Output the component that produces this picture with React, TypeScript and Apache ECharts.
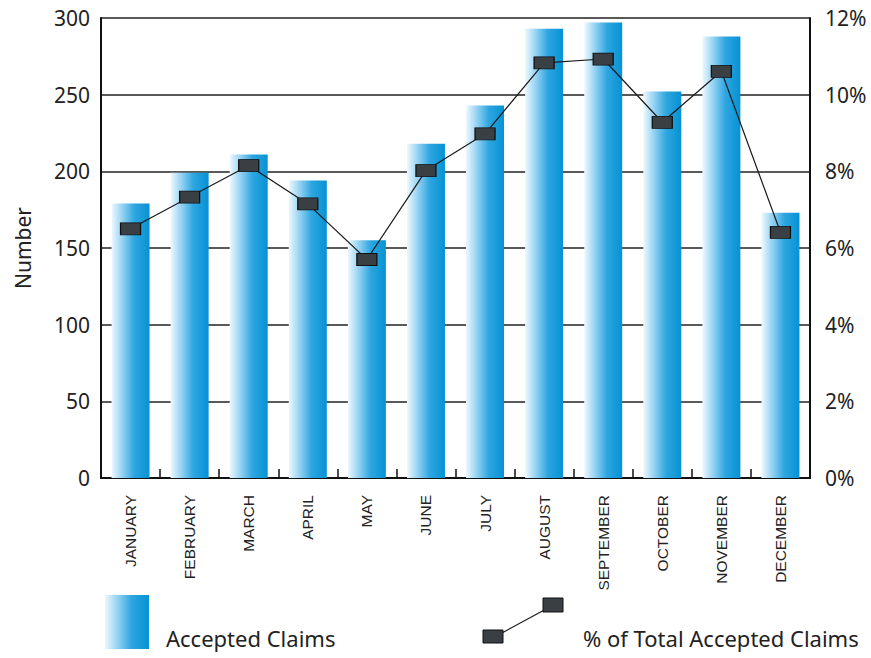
import React, { useEffect, useRef } from "react";
import * as echarts from "echarts";

const months = [
  "JANUARY", "FEBRUARY", "MARCH", "APRIL", "MAY", "JUNE",
  "JULY", "AUGUST", "SEPTEMBER", "OCTOBER", "NOVEMBER", "DECEMBER",
];
const acceptedClaims = [179, 199, 211, 194, 155, 218, 243, 293, 297, 252, 288, 173];
const pctOfTotal = [6.5, 7.33, 8.15, 7.15, 5.7, 8.02, 8.98, 10.83, 10.93, 9.28, 10.61, 6.41];
const leftTicks = { min: 0, max: 300, interval: 50 };
const rightTicks = { min: 0, max: 12, interval: 2 };

const FONT = "'Noto Sans', 'DejaVu Sans', sans-serif";
const LABEL_FONT = "'Liberation Sans Narrow', 'Arial Narrow', sans-serif";

const barGradient = () =>
  new echarts.graphic.LinearGradient(0, 0, 1, 0, [
    { offset: 0, color: "#eef8fe" },
    { offset: 0.3, color: "#8fd0f2" },
    { offset: 0.6, color: "#2ea6e0" },
    { offset: 1, color: "#0592d4" },
  ]);

export default function App() {
  const ref = useRef<HTMLDivElement>(null);
  useEffect(() => {
    if (!ref.current) return;
    const chart = echarts.init(ref.current, null, { renderer: "svg" });
    chart.setOption({
      animation: false,
      backgroundColor: "#ffffff",
      grid: { left: 101, right: 61, top: 18, bottom: 180, containLabel: false },
      xAxis: {
        type: "category",
        data: months,
        boundaryGap: true,
        axisLine: { show: true, lineStyle: { color: "#111", width: 2 } },
        axisTick: { show: true, inside: true, length: 9, lineStyle: { color: "#111", width: 1.5 } },
        axisLabel: {
          interval: 0,
          rotate: 90,
          margin: 17,
          fontSize: 15.5,
          fontFamily: LABEL_FONT,
          color: "#222",
        },
      },
      yAxis: [
        {
          type: "value",
          min: leftTicks.min,
          max: leftTicks.max,
          interval: leftTicks.interval,
          name: "Number",
          nameLocation: "middle",
          nameGap: 68,
          nameTextStyle: { fontSize: 21, fontFamily: FONT, color: "#222" },
          axisLine: { show: true, lineStyle: { color: "#111", width: 2 } },
          axisTick: { show: false },
          axisLabel: { fontSize: 21, fontFamily: FONT, color: "#222", margin: 11 },
          splitLine: { show: true, lineStyle: { color: "#222", width: 1.5 } },
        },
        {
          type: "value",
          position: "right",
          min: rightTicks.min,
          max: rightTicks.max,
          interval: rightTicks.interval,
          axisLine: { show: true, lineStyle: { color: "#111", width: 2 } },
          axisTick: { show: false },
          axisLabel: {
            fontSize: 21,
            fontFamily: FONT,
            color: "#222",
            margin: 15,
            formatter: (v: number) => `${v}%`,
          },
          splitLine: { show: false },
        },
      ],
      series: [
        {
          name: "Accepted Claims",
          type: "bar",
          yAxisIndex: 0,
          data: acceptedClaims,
          barWidth: 38,
          itemStyle: { color: barGradient() },
          z: 2,
        },
        {
          name: "% of Total Accepted Claims",
          type: "line",
          yAxisIndex: 1,
          data: pctOfTotal,
          symbol: "rect",
          symbolSize: [20, 12],
          lineStyle: { color: "#1a1a1a", width: 1.2 },
          itemStyle: { color: "#3a3f44", borderColor: "#111", borderWidth: 1 },
          z: 3,
        },
      ],
      graphic: [
        {
          type: "rect",
          shape: { x: 105, y: 595, width: 44, height: 54 },
          style: { fill: barGradient() },
        },
        {
          type: "text",
          x: 166,
          y: 638,
          style: {
            text: "Accepted Claims",
            fontSize: 22,
            fontFamily: FONT,
            fill: "#222",
            verticalAlign: "middle",
          },
        },
        {
          type: "polyline",
          shape: { points: [[500, 634], [548, 608]] },
          style: { stroke: "#1a1a1a", lineWidth: 1.2, fill: "none" },
        },
        {
          type: "rect",
          shape: { x: 483, y: 630, width: 20, height: 13 },
          style: { fill: "#3a3f44", stroke: "#111", lineWidth: 1 },
        },
        {
          type: "rect",
          shape: { x: 543, y: 598, width: 20, height: 14 },
          style: { fill: "#3a3f44", stroke: "#111", lineWidth: 1 },
        },
        {
          type: "text",
          x: 583,
          y: 638,
          style: {
            text: "% of Total Accepted Claims",
            fontSize: 22,
            fontFamily: FONT,
            fill: "#222",
            verticalAlign: "middle",
          },
        },
      ],
    });
    return () => chart.dispose();
  }, []);
  return <div ref={ref} style={{ width: 871, height: 658, position: "absolute", left: 0, top: 0 }} />;
}
